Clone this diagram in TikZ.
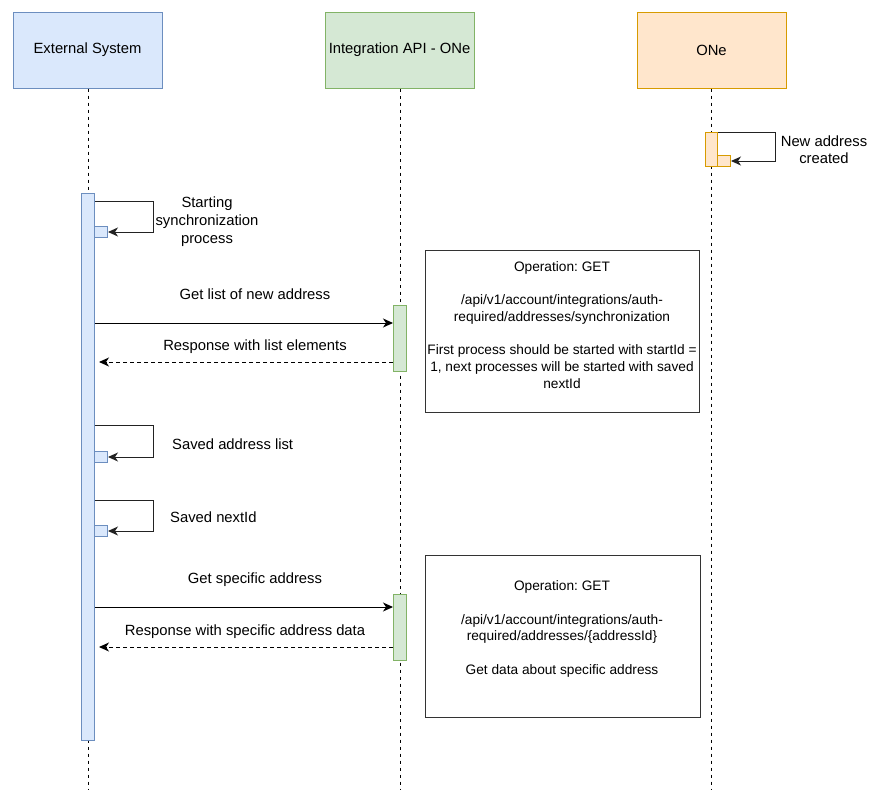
\documentclass[tikz,border=0pt]{standalone}
\usepackage{fontspec}
\setmainfont{Liberation Sans}
\usetikzlibrary{arrows.meta}
\frenchspacing
\definecolor{bfill}{HTML}{DAE8FC}
\definecolor{bline}{HTML}{6C8EBF}
\definecolor{gfill}{HTML}{D5E8D4}
\definecolor{gline}{HTML}{82B366}
\definecolor{ofill}{HTML}{FFE6CC}
\definecolor{oline}{HTML}{D79B00}
\definecolor{notel}{HTML}{333333}
\definecolor{loopl}{HTML}{222222}
\begin{document}
\begin{tikzpicture}[x=1pt,y=-1pt,
  header/.style={draw, line width=1pt, minimum width=149pt, minimum height=76pt, inner sep=0pt, font=\fontsize{14.8}{17}\selectfont},
  bluebox/.style={fill=bfill, draw=bline},
  greenbox/.style={fill=gfill, draw=gline},
  orangebox/.style={fill=ofill, draw=oline},
  bar/.style={line width=1pt, inner sep=0pt, minimum width=13pt, anchor=north west},
  smallbox/.style={line width=1pt, inner sep=0pt, minimum width=13pt, minimum height=11pt, anchor=north west},
  lifeline/.style={line width=1pt, dash pattern=on 3.5pt off 3.5pt},
  msg/.style={line width=1pt, -{Stealth[length=10pt,width=9pt,inset=3pt]}},
  selfmsg/.style={msg, draw=loopl},
  reply/.style={msg, dash pattern=on 4pt off 3pt},
  lbl/.style={font=\fontsize{14.8}{18}\selectfont, align=center, inner sep=0pt},
  notebox/.style={draw=notel, line width=1pt, fill=white, anchor=north west, inner sep=0pt},
  notetxt/.style={font=\fontsize{13.7}{16.7}\selectfont, align=center, inner sep=0pt}
]
\useasboundingbox (0,0) rectangle (880,798);

% headers
\node[header, bluebox] (ext) at (87.5,50) {External System};
\node[header, greenbox] (api) at (399.5,50) {Integration API - ONe};
\node[header, orangebox] (one) at (711.5,50) {ONe};

% lifelines
\coordinate (extend) at (88,790);
\coordinate (apiend) at (400,790);
\coordinate (oneend) at (711.5,790);
\draw[lifeline] (ext.south -| extend) -- (extend);
\draw[lifeline] (api.south -| apiend) -- (apiend);
\draw[lifeline] (one.south -| oneend) -- (oneend);

% note boxes
\node[notebox, minimum width=274pt, minimum height=162pt] (note1) at (425,250) {};
\node[notetxt] (note1t) at (562,325) {Operation: GET\\[16.7pt]/api/v1/account/integrations/auth-\\required/addresses/synchronization\\[16.7pt]First process should be started with startId =\\1, next processes will be started with saved\\nextId};
\node[notebox, minimum width=275pt, minimum height=162pt] (note2) at (425,555) {};
\node[notetxt] (note2t) at (562,629) {Operation: GET\\[16.7pt]/api/v1/account/integrations/auth-\\required/addresses/\{addressId\}\\[16.7pt]Get data about specific address};

% activation bars
\node[bar, bluebox, minimum height=547pt] (extbar) at (81,193) {};
\node[bar, greenbox, minimum height=66pt] (apibar1) at (393,305) {};
\node[bar, greenbox, minimum height=66pt] (apibar2) at (393,594) {};
\node[bar, orangebox, minimum width=12pt, minimum height=34pt] (onebar) at (705,132) {};

% small self-call boxes
\node[smallbox, bluebox] (sb1) at (94,226) {};
\node[smallbox, bluebox] (sb2) at (94,451) {};
\node[smallbox, bluebox] (sb3) at (94,525) {};
\node[smallbox, orangebox] (sb4) at (717,155) {};

% self loops
\coordinate (l1) at (0,201);
\coordinate (l2) at (0,425);
\coordinate (l3) at (0,500);
\draw[selfmsg] (extbar.east |- l1) -- (153,201) |- (sb1.east);
\draw[selfmsg] (extbar.east |- l2) -- (153,425) |- (sb2.east);
\draw[selfmsg] (extbar.east |- l3) -- (153,500) |- (sb3.east);
\draw[selfmsg] (onebar.north east) -- (775,132) |- (sb4.east);

% messages
\coordinate (m1) at (0,323);
\coordinate (m2) at (0,362);
\coordinate (m3) at (0,607);
\coordinate (m4) at (0,647);
\draw[msg] (extbar.east |- m1) -- (apibar1.west |- m1);
\draw[reply] (apibar1.west |- m2) -- ([xshift=4pt]extbar.east |- m2);
\draw[msg] (extbar.east |- m3) -- (apibar2.west |- m3);
\draw[reply] (apibar2.west |- m4) -- ([xshift=4pt]extbar.east |- m4);

% labels
\node[lbl] (t1) at (207,221.5) {Starting\\synchronization\\process};
\node[lbl, font=\fontsize{14.8}{17}\selectfont] (t2) at (824,150) {New address\\created};
\node[lbl] (t3) at (255,294.5) {Get list of new address};
\node[lbl] (t4) at (255,346.5) {Response with list elements};
\node[lbl, anchor=west] (t5) at (172,444) {Saved address list};
\node[lbl, anchor=west] (t6) at (170,517) {Saved nextId};
\node[lbl] (t7) at (255,579.5) {Get specific address};
\node[lbl] (t8) at (245,631.5) {Response with specific address data};
\end{tikzpicture}
\end{document}
